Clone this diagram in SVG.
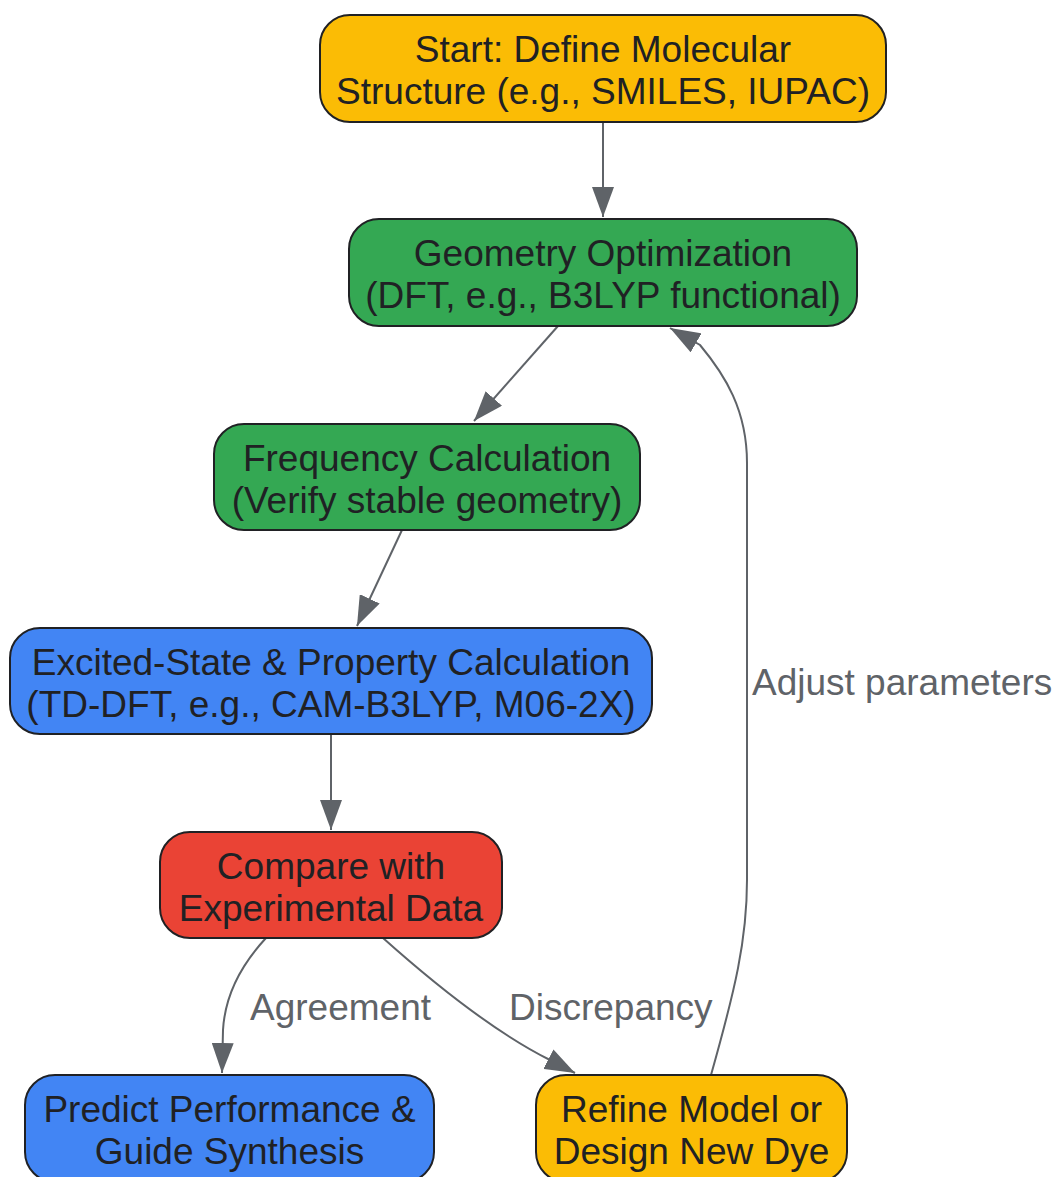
<svg xmlns="http://www.w3.org/2000/svg" width="1055" height="1177" viewBox="0 0 1055 1177">
<style>
.node rect{stroke:#202124;stroke-width:2}
.node text{font-family:"Liberation Sans",Arial,sans-serif;font-size:37px;fill:#202124;text-anchor:middle}
.yellow{fill:#FBBC05}.green{fill:#34A853}.blue{fill:#4285F4}.red{fill:#EA4335}
.edge{fill:none;stroke:#5F6368;stroke-width:2}
.elabel{font-family:"Liberation Sans",Arial,sans-serif;font-size:37px;fill:#5F6368}
</style>
<defs>
<marker id="arr" markerUnits="userSpaceOnUse" markerWidth="30" markerHeight="22" refX="30" refY="11" orient="auto">
<path d="M0,0 L30,11 L0,22 z" fill="#5F6368"/>
</marker>
</defs>
<rect width="1055" height="1177" fill="#ffffff"/>
<g id="connectors">
<path class="edge" d="M603,122 L603,217" marker-end="url(#arr)"/>
<path class="edge" d="M558,326 L474,421" marker-end="url(#arr)"/>
<path class="edge" d="M402,530 L357,626" marker-end="url(#arr)"/>
<path class="edge" d="M331,734 L331,830" marker-end="url(#arr)"/>
<path class="edge" d="M266,938 C240,966 225,995 223,1030 L222,1073" marker-end="url(#arr)"/>
<path class="edge" d="M383,938 C430,980 490,1030 550,1060 L575,1073" marker-end="url(#arr)"/>
<path class="edge" d="M711,1075 C735,990 747,940 747,880 L747,463 C747,410 725,375 700,345 L670,328" marker-end="url(#arr)"/>
<text class="elabel" x="752" y="695">Adjust parameters</text>
<text class="elabel" x="250" y="1020">Agreement</text>
<text class="elabel" x="509" y="1020">Discrepancy</text>
</g>
<g id="start" class="node">
<rect class="yellow" x="320" y="15" width="566" height="107" rx="30"/>
<text x="603" y="62">Start: Define Molecular</text>
<text x="603" y="104">Structure (e.g., SMILES, IUPAC)</text>
</g>
<g id="geometry" class="node">
<rect class="green" x="349" y="219" width="508" height="107" rx="30"/>
<text x="603" y="266">Geometry Optimization</text>
<text x="603" y="308">(DFT, e.g., B3LYP functional)</text>
</g>
<g id="frequency" class="node">
<rect class="green" x="214" y="424" width="426" height="106" rx="30"/>
<text x="427" y="471">Frequency Calculation</text>
<text x="427" y="513">(Verify stable geometry)</text>
</g>
<g id="excited" class="node">
<rect class="blue" x="10" y="628" width="642" height="106" rx="30"/>
<text x="331" y="675">Excited-State &amp; Property Calculation</text>
<text x="331" y="717">(TD-DFT, e.g., CAM-B3LYP, M06-2X)</text>
</g>
<g id="compare" class="node">
<rect class="red" x="160" y="832" width="342" height="106" rx="30"/>
<text x="331" y="879">Compare with</text>
<text x="331" y="921">Experimental Data</text>
</g>
<g id="predict" class="node">
<rect class="blue" x="25" y="1075" width="409" height="107" rx="30"/>
<text x="229.5" y="1122">Predict Performance &amp;</text>
<text x="229.5" y="1164">Guide Synthesis</text>
</g>
<g id="refine" class="node">
<rect class="yellow" x="536" y="1075" width="311" height="107" rx="30"/>
<text x="691.5" y="1122">Refine Model or</text>
<text x="691.5" y="1164">Design New Dye</text>
</g>
</svg>
